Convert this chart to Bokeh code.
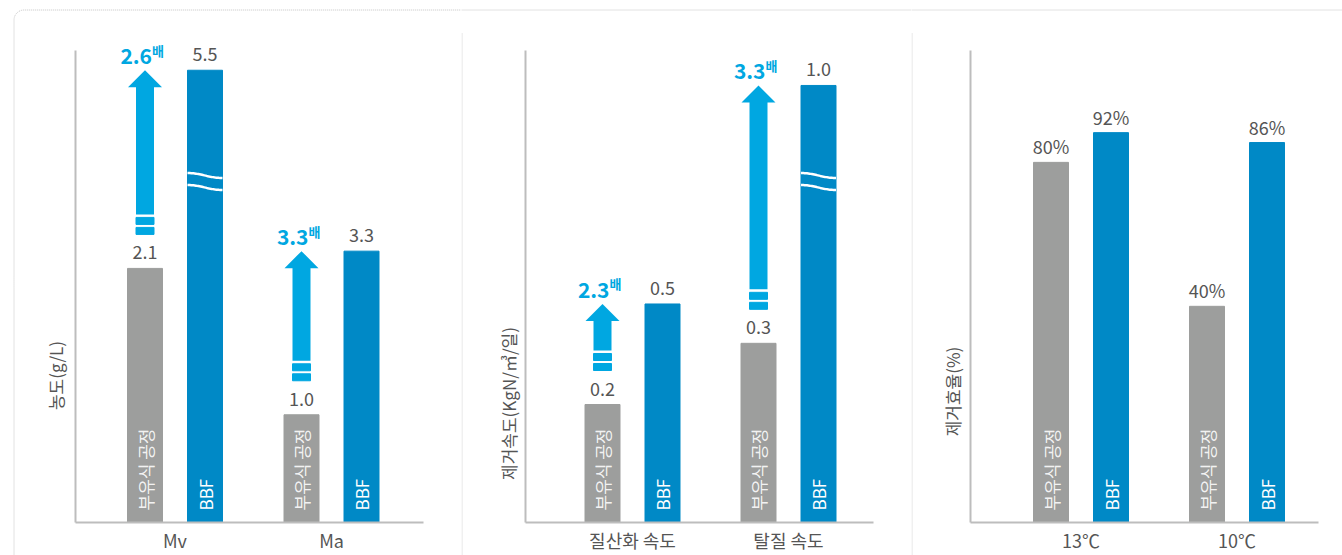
import math
import numpy as np
from bokeh.plotting import figure
from bokeh.layouts import row
from bokeh.models import Range1d, FixedTicker
from bokeh.embed import file_html
from bokeh.resources import INLINE
from bokeh.core.properties import value

# ---------------- data ----------------
series = ["부유식 공정", "BBF"]

conc_cats = ["Mv", "Ma"]
conc_float = [2.1, 1.0]          # printed values, 부유식 공정
conc_bbf = [5.5, 3.3]            # printed values, BBF
conc_float_bar = [3.09, 1.31]    # bar lengths as drawn (original is not to scale)
conc_bbf_bar = [5.5, 3.3]
conc_ratio = ["2.6", "3.3"]
conc_break = [True, False]

rate_cats = ["질산화 속도", "탈질 속도"]
rate_float = [0.2, 0.3]
rate_bbf = [0.5, 1.0]
rate_float_bar = [0.27, 0.41]
rate_bbf_bar = [0.5, 1.0]
rate_ratio = ["2.3", "3.3"]
rate_break = [False, True]

eff_cats = ["13℃", "10℃"]
eff_float = [80, 40]
eff_bbf = [92, 86]
eff_float_bar = [76.3, 45.8]
eff_bbf_bar = [82.6, 80.5]

# ---------------- style / layout ----------------
FONT = "Noto Sans CJK KR"
GRAY = "#9d9e9d"
BLUE = "#0089c6"
ARROW = "#00a7e1"
TEXT = "#555555"
AXIS = "#bdbdbd"
DOT = "#c4c4c4"
H = 555
BASE = 522      # page y of the baseline
AX_TOP = 50     # page y of the y-axis top


def make_panel(cats, fl_lab, bb_lab, fl_bar, bb_bar, fmt, ratios, breaks, ylabel,
               width, offset, ux, center1_px, axis_left_px, axis_right_px, axis_top,
               ylab_px):
    ky = (BASE - AX_TOP) / axis_top
    x0 = 1 - (center1_px - offset) / ux

    def X(px):
        return x0 + (px - offset) / ux

    def Y(py):
        return (BASE - py) / ky

    p = figure(width=width, height=H, output_backend="svg", toolbar_location=None,
               x_range=Range1d(X(offset), X(offset + width)),
               y_range=Range1d(Y(H), Y(0)),
               min_border=0)
    p.title.visible = False
    p.grid.visible = False
    p.outline_line_color = None
    p.background_fill_color = "white"
    p.border_fill_color = "white"

    centers = [i + 1 for i in range(len(cats))]
    xa = p.xaxis[0]
    xa.fixed_location = 0
    xa.bounds = (X(axis_left_px), X(axis_right_px))
    xa.ticker = FixedTicker(ticks=centers)
    xa.major_label_overrides = {c: cat for c, cat in zip(centers, cats)}
    xa.major_tick_line_color = None
    xa.minor_tick_line_color = None
    xa.axis_line_color = AXIS
    xa.axis_line_width = 2
    xa.major_label_standoff = -2
    xa.major_label_text_font = FONT
    xa.major_label_text_font_size = "18px"
    xa.major_label_text_color = TEXT
    ya = p.yaxis[0]
    ya.fixed_location = X(axis_left_px)
    ya.bounds = (0, axis_top)
    ya.ticker = FixedTicker(ticks=[])
    ya.major_tick_line_color = None
    ya.minor_tick_line_color = None
    ya.axis_line_color = AXIS
    ya.axis_line_width = 2

    off = 30 / ux
    bw = 35 / ux
    xg = [c - off for c in centers]
    xb = [c + off for c in centers]

    p.vbar(x=xg, top=fl_bar, width=bw, color=GRAY)
    p.vbar(x=xb, top=bb_bar, width=bw, color=BLUE)

    # value labels
    p.text(x=xg + xb, y=list(fl_bar) + list(bb_bar),
           text=[fmt(v) for v in list(fl_lab) + list(bb_lab)],
           text_align="center", text_baseline="alphabetic", y_offset=-16,
           text_font=value(FONT), text_font_size="18px", text_color=TEXT)

    # series names inside bars
    p.text(x=xg, y=[0] * len(xg), text=[series[0]] * len(xg), angle=math.pi / 2,
           text_align="left", text_baseline="middle", y_offset=-12,
           text_font=value(FONT), text_font_size="17px", text_color="white",
           text_alpha=0.9)
    p.text(x=xb, y=[0] * len(xb), text=[series[1]] * len(xb), angle=math.pi / 2,
           text_align="left", text_baseline="middle", y_offset=-12,
           text_font=value(FONT), text_font_size="17px", text_color="white")

    # break marks on tall bars
    t = np.linspace(0, 1, 30)
    for i, b in enumerate(breaks):
        if not b:
            continue
        xs = xb[i] - bw / 2 + t * bw
        for h0 in (347, 335):
            ys = (h0 + 2.5 * np.cos(math.pi * t)) / ky
            p.line(xs, ys, line_color="white", line_width=2.5)

    # growth arrows
    if ratios is not None:
        pxs, pys = [], []
        dl, dr, db, dt = [], [], [], []
        for i in range(len(cats)):
            xc = xg[i]
            tip = bb_bar[i]
            base = tip - 17 / ky
            bottom = fl_bar[i] + 54 / ky
            sw, hw = 9 / ux, 17 / ux
            pxs.append([xc - sw, xc - sw, xc - hw, xc, xc + hw, xc + sw, xc + sw])
            pys.append([bottom, base, base, tip, base, base, bottom])
            for a, b2 in ((44, 51), (34, 41)):
                dl.append(xc - sw)
                dr.append(xc + sw)
                db.append(fl_bar[i] + a / ky)
                dt.append(fl_bar[i] + b2 / ky)
        p.patches(pxs, pys, color=ARROW, line_width=0)
        p.quad(left=dl, right=dr, bottom=db, top=dt, color=ARROW)
        p.text(x=xg, y=bb_bar, text=ratios, text_align="right",
               text_baseline="alphabetic", x_offset=7, y_offset=-14,
               text_font=value(FONT), text_font_size="21px", text_font_style="bold",
               text_color=ARROW)
        p.text(x=xg, y=bb_bar, text=["배"] * len(xg), text_align="left",
               text_baseline="alphabetic", x_offset=7, y_offset=-20,
               text_font=value(FONT), text_font_size="13px", text_font_style="bold",
               text_color=ARROW)

    # y-axis title
    p.text(x=[X(ylab_px[0])], y=[Y(ylab_px[1])], text=[ylabel], angle=math.pi / 2,
           text_align="center", text_baseline="middle",
           text_font=value(FONT), text_font_size="17px", text_color=TEXT)

    # dotted frame decorations
    if offset == 0:
        r = 10
        a = np.linspace(math.pi, 1.5 * math.pi, 12)
        cx, cy = 13.5 + r, 9.5 + r
        px = [13.5] + list(cx + r * np.cos(a)) + [offset + width]
        py = [H] + list(cy + r * np.sin(a)) + [9.5]
        p.line([X(v) for v in px], [Y(v) for v in py], line_color=DOT,
               line_dash="1 1", line_width=1)
    else:
        p.line([X(offset), X(offset + width)], [Y(9.5), Y(9.5)], line_color=DOT,
               line_dash="1 1", line_width=1)
        p.line([X(offset + 0.5), X(offset + 0.5)], [Y(33), Y(H)], line_color=DOT,
               line_dash="1 1", line_width=1)
    return p


def f1(v):
    return f"{v:.1f}"


def fpct(v):
    return f"{v:d}%"


p1 = make_panel(conc_cats, conc_float, conc_bbf, conc_float_bar, conc_bbf_bar, f1,
                conc_ratio, conc_break, "농도(g/L)",
                461, 0, 156.5, 174.5, 75, 423, 5.74, (55, 375))
p2 = make_panel(rate_cats, rate_float, rate_bbf, rate_float_bar, rate_bbf_bar, f1,
                rate_ratio, rate_break, "제거속도(KgN/㎥/일)",
                450, 461, 156, 632, 525, 873, 1.08, (508, 403))
p3 = make_panel(eff_cats, eff_float, eff_bbf, eff_float_bar, eff_bbf_bar, fpct,
                None, [False, False], "제거효율(%)",
                431, 911, 156, 1080.5, 970, 1318, 100, (952, 391))

layout = row(p1, p2, p3)
open("out.html", "w").write(file_html(layout, INLINE))
